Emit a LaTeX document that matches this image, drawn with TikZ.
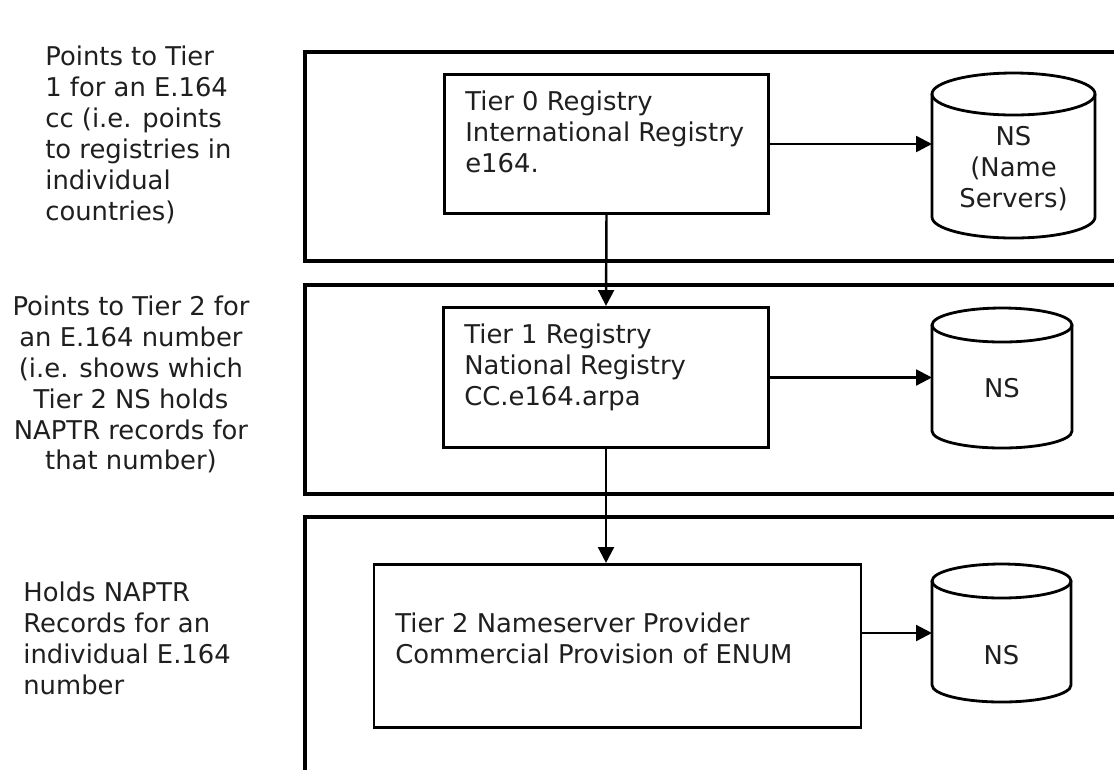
\documentclass[tikz,border=0pt]{standalone}
\usepackage{fontspec}
\setmainfont{DejaVu Sans}
\usetikzlibrary{arrows.meta,calc}
\newcommand{\nscyl}[5]{% L T R B ry (pixels)
  \pgfmathsetmacro\cx{(#1+#3)/2}%
  \pgfmathsetmacro\rx{(#3-#1)/2}%
  \pgfmathsetmacro\yt{#2+#5}%
  \pgfmathsetmacro\yb{#4-#5}%
  \pgfmathsetmacro\kk{0.5523*#5}%
  \pgfmathsetmacro\kx{0.5523*\rx}%
  \pgfmathsetmacro\ytb{\yt+#5}%
  \draw[cylline] (#1,\yt) -- (#1,\yb) .. controls (#1,\yb+\kk) and (\cx-\kx,#4) .. (\cx,#4)
     .. controls (\cx+\kx,#4) and (#3,\yb+\kk) .. (#3,\yb) -- (#3,\yt);
  \draw[cylline] (#1,\yt) .. controls (#1,\yt-\kk) and (\cx-\kx,#2) .. (\cx,#2)
     .. controls (\cx+\kx,#2) and (#3,\yt-\kk) .. (#3,\yt)
     .. controls (#3,\yt+\kk) and (\cx+\kx,\ytb) .. (\cx,\ytb)
     .. controls (\cx-\kx,\ytb) and (#1,\yt+\kk) .. (#1,\yt) -- cycle;
}
\begin{document}
\begin{tikzpicture}[x=0.02cm,y=-0.02cm,
  frame/.style={draw=black,line width=1.9pt},
  regbox/.style={draw=black,line width=1.6pt,fill=white,inner sep=0pt},
  cylline/.style={draw=black,line width=1.6pt},
  nsarea/.style={inner sep=0pt},
  txt/.style={inner sep=0pt,font=\fontsize{14.7}{17.6}\selectfont,text=black!88},
  conn/.style={draw=black,line width=1.4pt,-{Triangle[length=9pt,width=9pt]}}]
\clip (0,0) rectangle (1114,769);
\fill[white] (0,0) rectangle (1114,769);
% tier frames
\draw[frame] (305,52) rectangle (1130,261);
\draw[frame] (305,285) rectangle (1130,494);
\draw[frame] (305,517) rectangle (1130,800);
% left descriptions
\node[txt,anchor=west,align=left] (d0) at (45,135) {Points to Tier\\1 for an E.164\\cc (i.e. points\\to registries in\\individual\\countries)};
\node[txt,align=center] (d1) at (131,384.5) {Points to Tier 2 for\\an E.164 number\\(i.e. shows which\\Tier 2 NS holds\\NAPTR records for\\that number)};
\node[txt,anchor=west,align=left] (d2) at (23,638.5) {Holds NAPTR\\Records for an\\individual E.164\\number};
% registry boxes
\node[regbox,minimum width=325*0.5669pt,minimum height=140*0.5669pt] (t0) at (606.5,144) {};
\node[regbox,minimum width=326*0.5669pt,minimum height=141*0.5669pt] (t1) at (606,377.5) {};
\node[regbox,minimum width=489*0.5669pt,minimum height=164*0.5669pt] (t2) at (617.5,646) {};
\node[txt,anchor=west,align=left] (t0txt) at (465,132) {Tier 0 Registry\\International Registry\\e164.};
\node[txt,anchor=west,align=left] (t1txt) at (464,367.5) {Tier 1 Registry\\National Registry\\CC.e164.arpa};
\node[txt,anchor=west,align=left] (t2txt) at (395,638.5) {Tier 2 Nameserver Provider\\Commercial Provision of ENUM};
% name server cylinders
\nscyl{932}{73}{1095}{238}{21}
\nscyl{932}{308}{1072}{448}{17}
\nscyl{932}{564}{1071}{702}{17}
\node[nsarea,minimum width=163*0.5669pt,minimum height=165*0.5669pt] (ns0) at (1013.5,155.5) {};
\node[nsarea,minimum width=140*0.5669pt,minimum height=140*0.5669pt] (ns1) at (1002,378) {};
\node[nsarea,minimum width=139*0.5669pt,minimum height=138*0.5669pt] (ns2) at (1001.5,633) {};
\node[txt,align=center] (ns0txt) at (1013.5,169) {NS\\(Name\\Servers)};
\node[txt] (ns1txt) at (1002,388) {NS};
\node[txt] (ns2txt) at (1001.5,655) {NS};
% connectors
\draw[conn] (t0.east) -- (t0.east -| ns0.west);
\draw[conn] (t1.east) -- (t1.east -| ns1.west);
\draw[conn] ([yshift=7.4pt]t2.east) -- ([yshift=7.4pt]t2.east -| ns2.west);
\draw[conn] (t0.south) -- (t1.north);
\draw[conn] (t1.south) -- (t1.south |- t2.north);
\end{tikzpicture}
\end{document}
